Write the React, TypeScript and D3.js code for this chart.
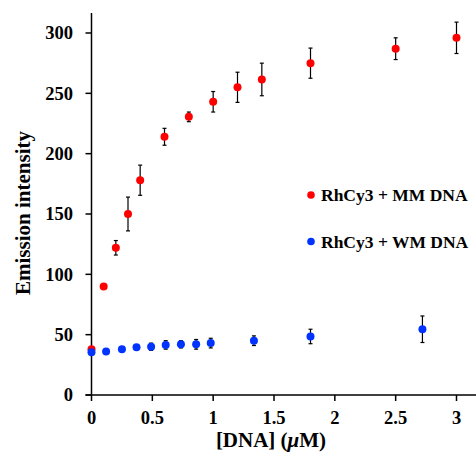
import React from "react";
import * as d3 from "d3";

// RhCy3 + MM DNA
const mmConc = [0, 0.1, 0.2, 0.3, 0.4, 0.6, 0.8, 1.0, 1.2, 1.4, 1.8, 2.5, 3.0];
const mmIntensity = [38, 90, 122, 150, 178, 214, 230.5, 243, 255, 261.5, 275, 287, 296];
const mmError = [0, 0, 6, 14, 12.5, 7, 4, 8.5, 12.5, 13.5, 12.5, 9, 13];

// RhCy3 + WM DNA
const wmConc = [0, 0.12, 0.25, 0.37, 0.49, 0.61, 0.735, 0.86, 0.98, 1.335, 1.8, 2.72];
const wmIntensity = [35.5, 36, 38, 39.5, 40, 41.5, 42, 42, 43, 45, 48.5, 54.5];
const wmError = [0, 0, 1.5, 2, 3, 3.5, 3, 4, 4, 4, 6, 11];

const xTicks = [0, 0.5, 1, 1.5, 2, 2.5, 3];
const yTicks = [0, 50, 100, 150, 200, 250, 300];

const seriesNames = ["RhCy3 + MM DNA", "RhCy3 + WM DNA"];
const seriesColors = ["#ff0000", "#0033ff"];

export default function App() {
  const width = 476,
    height = 454;

  const x = d3.scaleLinear().domain([0, 3]).range([91.5, 456.5]);
  const y = d3.scaleLinear().domain([0, 300]).range([395, 33]);

  const font = "'Liberation Serif', 'Times New Roman', serif";

  const series = [
    { xs: mmConc, ys: mmIntensity, es: mmError, color: seriesColors[0] },
    { xs: wmConc, ys: wmIntensity, es: wmError, color: seriesColors[1] },
  ];

  return (
    <svg
      width={width}
      height={height}
      style={{ position: "absolute", left: 0, top: 0 }}
      fontFamily={font}
      fontWeight="bold"
    >
      {/* axes */}
      <line x1={x(0)} x2={x(0)} y1={13} y2={y(0)} stroke="#000" strokeWidth={1.5} />
      <line x1={x(0) - 6} x2={476} y1={y(0)} y2={y(0)} stroke="#000" strokeWidth={1.5} />
      {yTicks.map((t) => (
        <g key={"y" + t}>
          <line x1={x(0) - 6} x2={x(0)} y1={y(t)} y2={y(t)} stroke="#000" strokeWidth={1.5} />
          <text x={73} y={y(t)} dy="0.35em" textAnchor="end" fontSize={18.5}>
            {t}
          </text>
        </g>
      ))}
      {xTicks.map((t) => (
        <g key={"x" + t}>
          <line x1={x(t)} x2={x(t)} y1={y(0)} y2={y(0) + 6} stroke="#000" strokeWidth={1.5} />
          <text x={x(t)} y={424} textAnchor="middle" fontSize={18.5}>
            {t}
          </text>
        </g>
      ))}

      {/* axis titles */}
      <text x={271} y={447} textAnchor="middle" fontSize={21}>
        [DNA] (<tspan fontStyle="italic">μ</tspan>M)
      </text>
      <text
        transform="translate(30,213) rotate(-90)"
        textAnchor="middle"
        fontSize={21}
      >
        Emission intensity
      </text>

      {/* data */}
      {series.map((s, si) => (
        <g key={"s" + si}>
          {s.xs.map((cx, i) =>
            s.es[i] > 0 ? (
              <g key={"e" + i} stroke="#000" strokeWidth={1.2}>
                <line x1={x(cx)} x2={x(cx)} y1={y(s.ys[i] - s.es[i])} y2={y(s.ys[i] + s.es[i])} />
                <line x1={x(cx) - 2} x2={x(cx) + 2} y1={y(s.ys[i] - s.es[i])} y2={y(s.ys[i] - s.es[i])} />
                <line x1={x(cx) - 2} x2={x(cx) + 2} y1={y(s.ys[i] + s.es[i])} y2={y(s.ys[i] + s.es[i])} />
              </g>
            ) : null
          )}
          {s.xs.map((cx, i) => (
            <circle key={"c" + i} cx={x(cx)} cy={y(s.ys[i])} r={4} fill={s.color} />
          ))}
        </g>
      ))}

      {/* legend */}
      {seriesNames.map((name, i) => (
        <g key={"l" + i} transform={`translate(311,${195 + i * 46.5})`}>
          <circle cx={0} cy={0} r={3.8} fill={seriesColors[i]} />
          <text x={10} y={0} dy="0.35em" fontSize={17.5}>
            {name}
          </text>
        </g>
      ))}
    </svg>
  );
}
